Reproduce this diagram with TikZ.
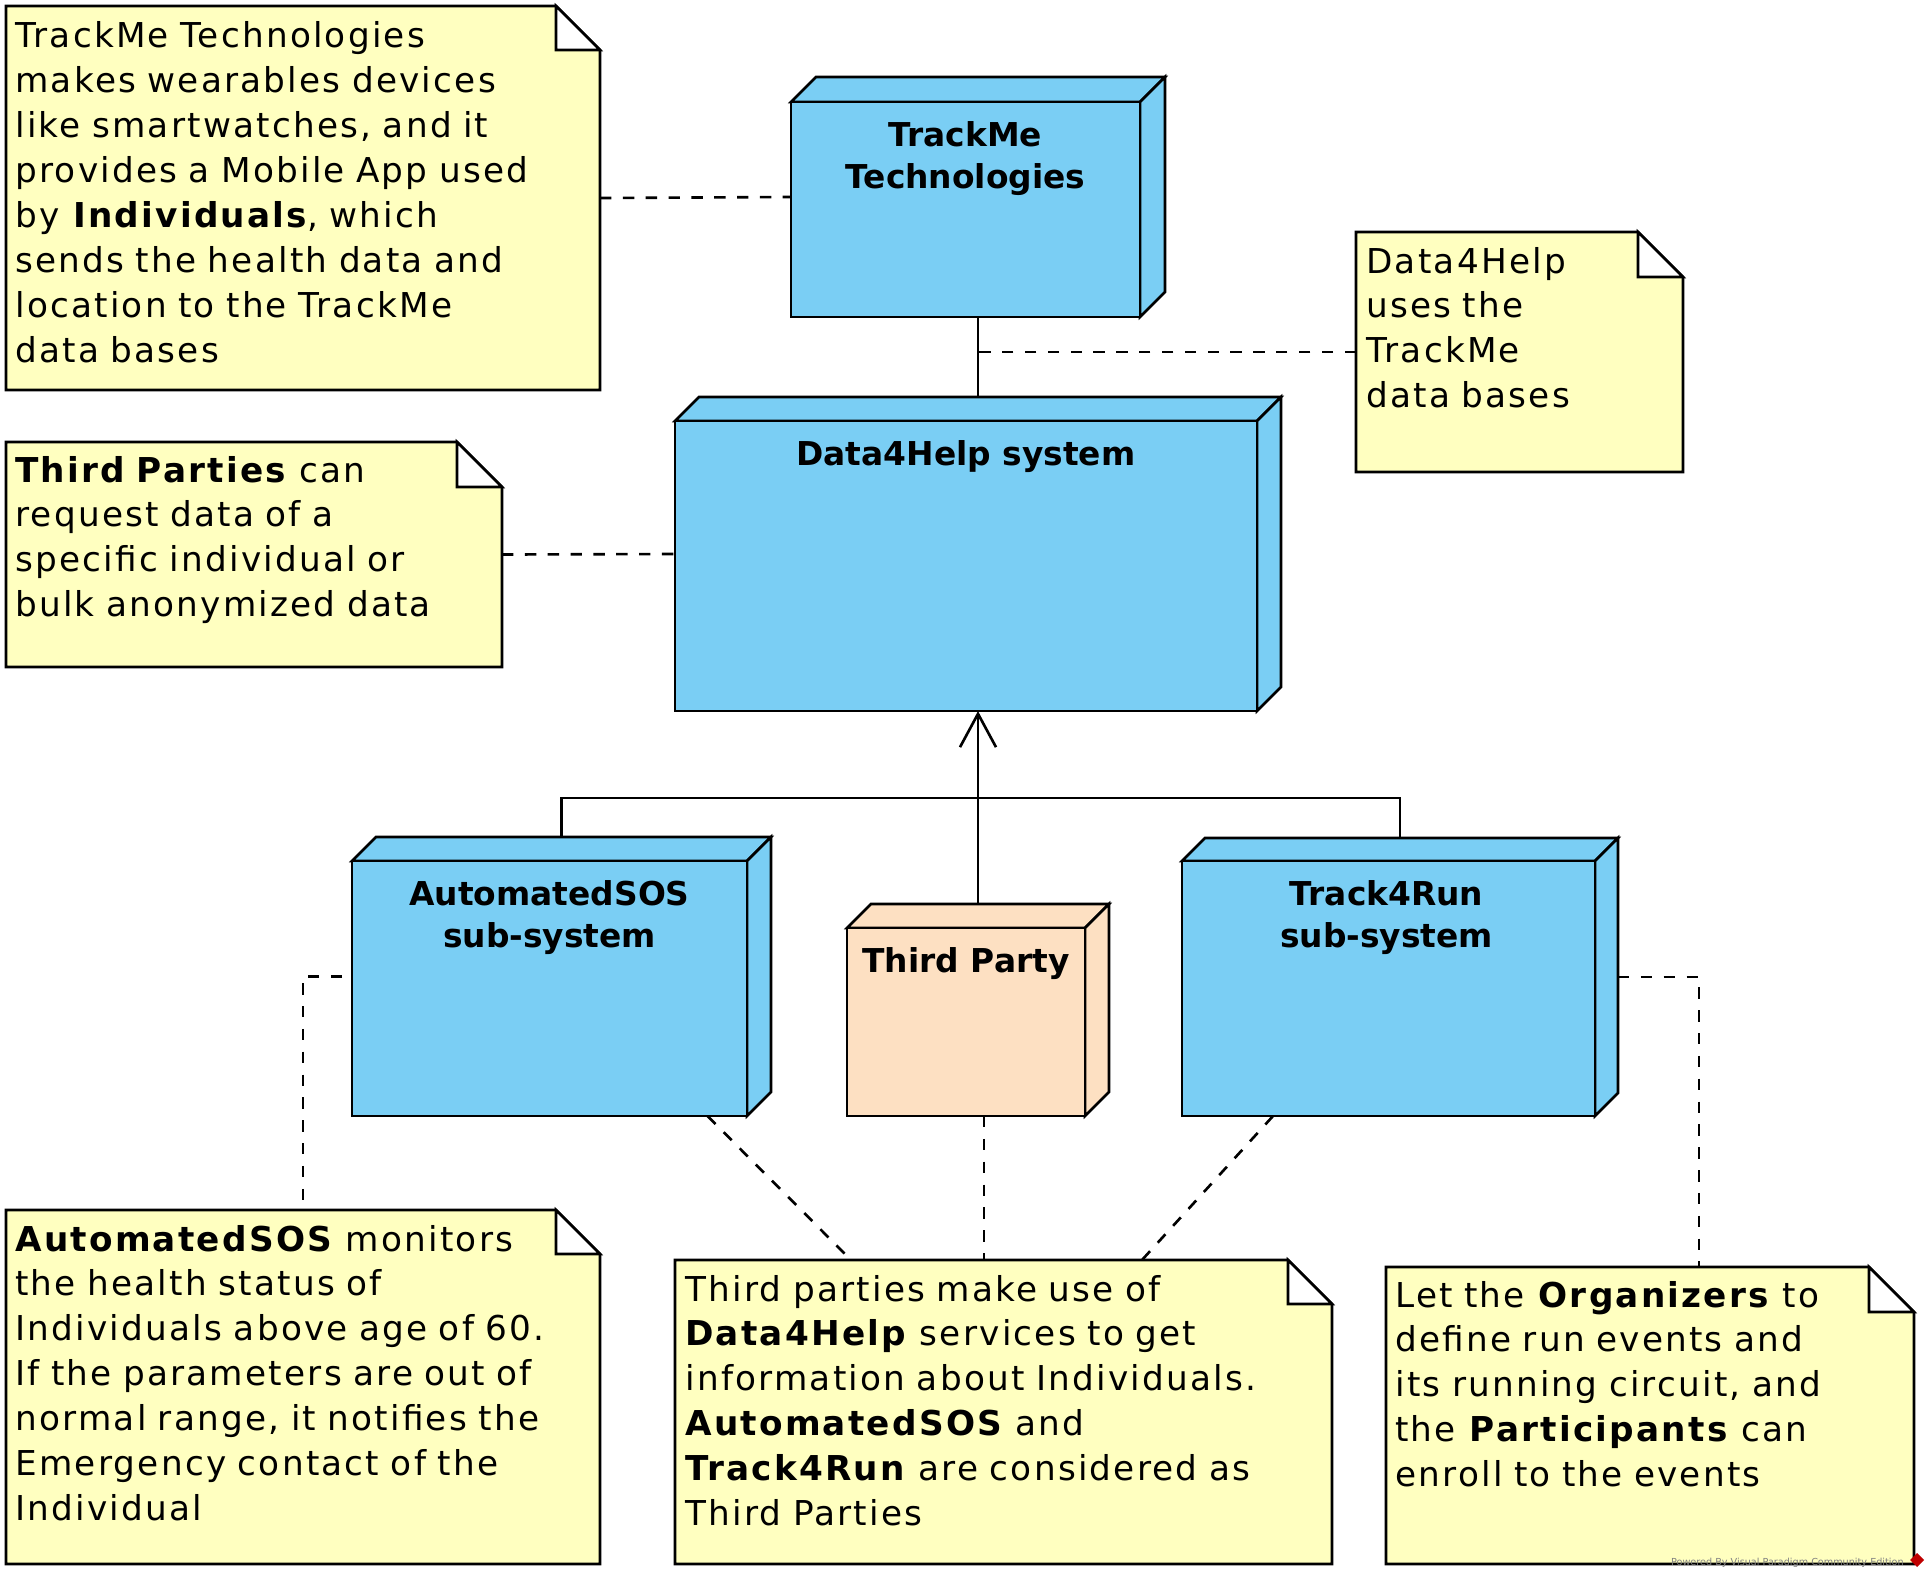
\documentclass[tikz,border=0pt]{standalone}
\usepackage{fontspec}
\setmainfont{DejaVu Sans}
\newfontfamily\notefont{DejaVu Sans}[LetterSpace=6.5]
\usetikzlibrary{arrows.meta,fit}
\definecolor{nodeblue}{RGB}{122,206,244}
\definecolor{peach}{RGB}{253,224,194}
\definecolor{noteyellow}{RGB}{255,255,192}
\tikzset{
  boxline/.style={draw=black,line width=1.5pt,line join=miter},
  solidline/.style={draw=black,line width=1.5pt},
  dashline/.style={draw=black,line width=1.5pt,dash pattern=on 6.5pt off 6.5pt},
  openarrow/.style={solidline,-{Straight Barb[length=19pt,width=20.5pt,line width=1.5pt]}},
  titletext/.style={font=\bfseries\fontsize{18.7}{23.8}\selectfont,align=center,inner sep=0pt,anchor=north},
  notetext/.style={font=\notefont\fontsize{19.5}{25.6}\selectfont,align=left,inner sep=0pt,anchor=base west},
  hull/.style={inner sep=0pt,outer sep=0pt}
}
% cube: name, x1, y1, x2, y2, depth, colour
\newcommand\dcube[7]{%
  \filldraw[boxline,fill=#7] (#2,#3) -- ({#2+#6},{#3-#6}) -- ({#4+#6},{#3-#6}) -- (#4,#3) -- cycle;
  \filldraw[boxline,fill=#7] (#4,#3) -- ({#4+#6},{#3-#6}) -- ({#4+#6},{#5-#6}) -- (#4,#5) -- cycle;
  \filldraw[boxline,fill=#7] (#2,#3) rectangle (#4,#5);
  \node[hull,fit={(#2,{#3-#6}) ({#4+#6},#5)}] (#1) {};
}
% note: name, x1, y1, x2, y2, fold
\newcommand\dnote[6]{%
  \filldraw[boxline,fill=noteyellow] (#2,#3) -- ({#4-#6},#3) -- (#4,{#3+#6}) -- (#4,#5) -- (#2,#5) -- cycle;
  \filldraw[boxline,fill=white] ({#4-#6},#3) -- ({#4-#6},{#3+#6}) -- (#4,{#3+#6}) -- cycle;
  \node[hull,fit={(#2,#3) (#4,#5)}] (#1) {};
}
\begin{document}
\begin{tikzpicture}[x=0.02cm,y=-0.02cm]
\useasboundingbox[fill=white] (0,0) rectangle (1929,1578);

% notes
\dnote{n1}{6}{6}{600}{390}{44}
\dnote{n2}{1356}{232}{1683}{472}{45}
\dnote{n3}{6}{442}{502}{667}{45}
\dnote{n4}{6}{1210}{600}{1564}{44}
\dnote{n5}{675}{1260}{1332}{1564}{44}
\dnote{n6}{1386}{1267}{1914}{1564}{45}

% nodes
\dcube{tm}{791}{102}{1140}{317}{25}{nodeblue}
\dcube{d4h}{675}{421}{1257}{711}{24}{nodeblue}
\dcube{as}{352}{861}{747}{1116}{24}{nodeblue}
\dcube{tp}{847}{928}{1085}{1116}{24}{peach}
\dcube{tr}{1182}{861}{1595}{1116}{23}{nodeblue}

\node[titletext] (tmt) at (965.5,121) {TrackMe\\Technologies};
\node[titletext] (d4ht) at (966,440) {Data4Help system};
\node[titletext] (ast) at (549.5,880) {AutomatedSOS\\sub-system};
\node[titletext] (tpt) at (966,947) {Third Party};
\node[titletext] (trt) at (1386.5,880) {Track4Run\\sub-system};

% note texts
\node[notetext,text width=12.7cm] (n1t) at (15,48) {TrackMe Technologies\\makes wearables devices\\like smartwatches, and it\\provides a Mobile App used\\by \textbf{Individuals}, which\\sends the health data and\\location to the TrackMe\\data bases};
\node[notetext,text width=7cm] (n2t) at (1366,273) {Data4Help\\uses the\\TrackMe\\data bases};
\node[notetext,text width=10.7cm] (n3t) at (15,482) {\textbf{Third Parties} can\\request data of a\\specific individual or\\bulk anonymized data};
\node[notetext,text width=12.7cm] (n4t) at (15,1251) {\textbf{AutomatedSOS} monitors\\the health status of\\Individuals above age of 60.\\If the parameters are out of\\normal range, it notifies the\\Emergency contact of the\\Individual};
\node[notetext,text width=13.9cm] (n5t) at (685,1301) {Third parties make use of\\\textbf{Data4Help} services to get\\information about Individuals.\\\textbf{AutomatedSOS} and\\\textbf{Track4Run} are considered as\\Third Parties};
\node[notetext,text width=10.9cm] (n6t) at (1395,1307) {Let the \textbf{Organizers} to\\define run events and\\its running circuit, and\\the \textbf{Participants} can\\enroll to the events};

% connectors
\draw[dashline] (n1.east) -- (tm.west);
\draw[solidline] (tm.south) -- (d4h.north);
\coordinate (mid) at (978,352);
\draw[dashline] (n2.west) -- (mid);
\draw[dashline] (n3.east) -- (d4h.west);
\draw[openarrow] (tp.north) -- (d4h.south);
\coordinate (j) at (978,798);
\draw[solidline] (as.north) |- (j);
\draw[solidline] (tr.north) |- (j);
\draw[dashline] ([xshift=-0.2cm]as.west) -| (n4.north);
\draw[dashline] (tr.east) -| ([xshift=0.98cm]n6.north);
\draw[dashline] ([xshift=2.92cm]as.south) -- ([xshift=-3.05cm]n5.north);
\draw[dashline] ([xshift=0.12cm]tp.south) -- ([xshift=0.12cm]tp.south |- n5.north);
\draw[dashline] ([xshift=-2.54cm]tr.south) -- ([xshift=2.77cm]n5.north);

% watermark
\node[font=\fontsize{5.5}{6}\selectfont,text=gray,anchor=base east,inner sep=0pt] (wm) at (1904,1565) {Powered By Visual Paradigm Community Edition};
\fill[red!75!black] (1917,1553) -- (1924,1560) -- (1917,1567) -- (1910,1560) -- cycle;
\end{tikzpicture}
\end{document}
